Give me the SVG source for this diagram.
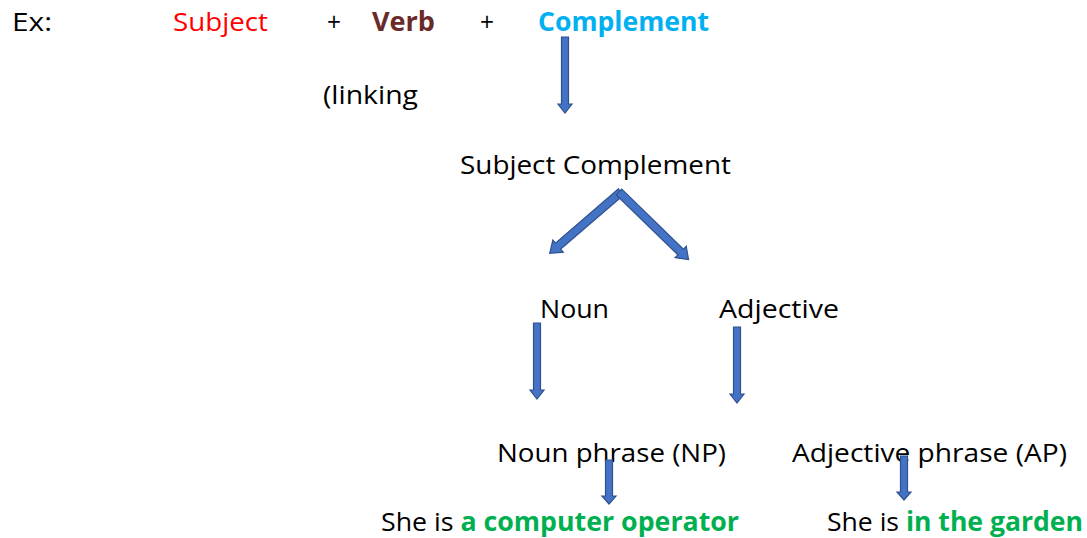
<svg xmlns="http://www.w3.org/2000/svg" width="1087" height="538" viewBox="0 0 1087 538">
<style>
text{font-family:"Open Sans","Noto Sans",sans-serif;font-size:26px;fill:#000}
.b{font-weight:bold}
.red{fill:#FF0000}
.verb{fill:#6B2A2A}
.blue{fill:#00B0F0}
.green{fill:#00B050;font-weight:bold}
.arr{fill:#4472C4;stroke:#2F528F;stroke-width:1.2;stroke-linejoin:miter}
</style>
<rect width="1087" height="538" fill="#fff"/>
<g id="header">
<text x="12" y="31" textLength="40" lengthAdjust="spacingAndGlyphs">Ex:</text>
<text x="173" y="31" class="red" textLength="95" lengthAdjust="spacingAndGlyphs">Subject</text>
<text x="327" y="31" textLength="14" lengthAdjust="spacingAndGlyphs">+</text>
<text x="372" y="31" class="b verb" textLength="63" lengthAdjust="spacingAndGlyphs">Verb</text>
<text x="480" y="31" textLength="14" lengthAdjust="spacingAndGlyphs">+</text>
<text x="538" y="31" class="b blue" textLength="171" lengthAdjust="spacingAndGlyphs">Complement</text>
</g>
<g id="linking"><text x="323" y="104" textLength="95" lengthAdjust="spacingAndGlyphs">(linking</text></g>
<g id="subject-complement"><text x="460" y="174" textLength="271" lengthAdjust="spacingAndGlyphs">Subject Complement</text></g>
<g id="noun"><text x="540" y="318" textLength="69" lengthAdjust="spacingAndGlyphs">Noun</text></g>
<g id="adjective"><text x="719" y="318" textLength="120" lengthAdjust="spacingAndGlyphs">Adjective</text></g>
<g id="np"><text x="497" y="462" textLength="229" lengthAdjust="spacingAndGlyphs">Noun phrase (NP)</text></g>
<g id="ap"><text x="792" y="462" textLength="275" lengthAdjust="spacingAndGlyphs">Adjective phrase (AP)</text></g>
<g id="ex1"><text x="381" y="531" textLength="358" lengthAdjust="spacingAndGlyphs">She is <tspan class="green">a computer operator</tspan></text></g>
<g id="ex2"><text x="827" y="531" textLength="256" lengthAdjust="spacingAndGlyphs">She is <tspan class="green">in the garden</tspan></text></g>
<g id="connectors">
<polygon class="arr" points="561.5,37 568.5,37 568.5,104 572,104 565,113 558,104 561.5,104"/>
<g transform="translate(621,192) rotate(139.3)"><polygon class="arr" points="0,-4 83,-4 83,-8 94,0 83,8 83,4 0,4"/></g>
<g transform="translate(619,192) rotate(44.2)"><polygon class="arr" points="0,-4 86,-4 86,-8 97,0 86,8 86,4 0,4"/></g>
<polygon class="arr" points="533.5,323 540.5,323 540.5,390 544,390 537,399 530,390 533.5,390"/>
<polygon class="arr" points="733.5,327 740.5,327 740.5,394 744,394 737,403 730,394 733.5,394"/>
<polygon class="arr" points="605.5,460 612.5,460 612.5,496 616,496 609,504 602,496 605.5,496"/>
<polygon class="arr" points="900.5,456 907.5,456 907.5,492 911,492 904,500 897,492 900.5,492"/>
</g>
</svg>
